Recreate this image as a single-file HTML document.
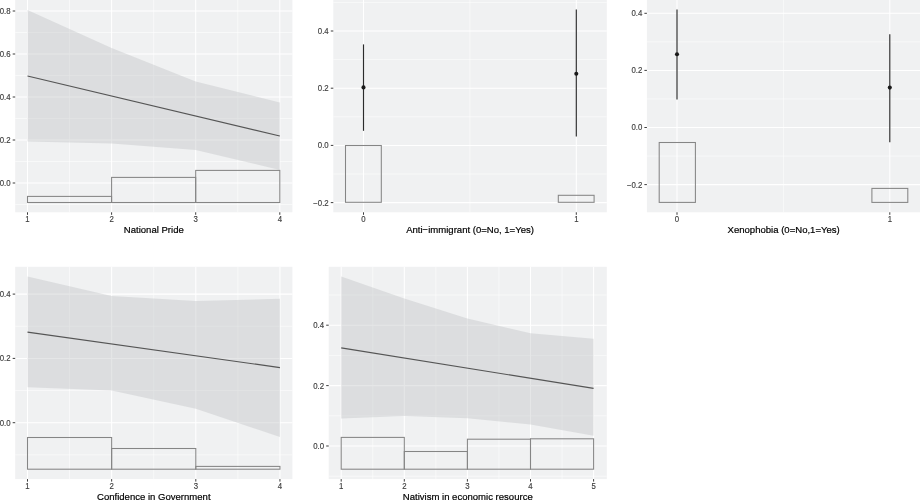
<!DOCTYPE html>
<html><head><meta charset="utf-8"><title>Marginal effects</title>
<style>
html,body{margin:0;padding:0;background:#fff;overflow:hidden}
svg{display:block}
text{font-family:"Liberation Sans",Arial,sans-serif}
.t{font-size:8.4px;fill:#3d3d3d;stroke:#3d3d3d;stroke-width:0.15px}
.a{font-size:9.9px;fill:#000;stroke:#000;stroke-width:0.2px}
</style></head><body>
<svg width="920" height="500" viewBox="0 0 920 500">
<rect width="920" height="500" fill="#fff"/>
<rect x="15.2" y="-2" width="277.20" height="214.30" fill="#F0F1F2"/>
<path d="M69.55 -2V212.3M153.65 -2V212.3M237.75 -2V212.3M15.2 204.50H292.4M15.2 161.50H292.4M15.2 118.50H292.4M15.2 75.50H292.4M15.2 32.50H292.4" stroke="#FFFFFF" stroke-width="0.55" fill="none"/>
<path d="M27.50 -2V212.3M111.60 -2V212.3M195.70 -2V212.3M279.80 -2V212.3M15.2 183.00H292.4M15.2 140.00H292.4M15.2 97.00H292.4M15.2 54.00H292.4M15.2 11.00H292.4" stroke="#FFFFFF" stroke-width="1.05" fill="none"/>
<polygon points="27.50,10.00 111.60,48.00 195.70,81.50 279.80,102.50 279.80,170.00 195.70,150.00 111.60,143.50 27.50,141.50" fill="#BFC1C4" fill-opacity="0.4"/>
<line x1="27.50" y1="76.00" x2="279.80" y2="136.00" stroke="#555" stroke-width="1.2"/>
<rect x="27.50" y="196.40" width="84.10" height="6.10" fill="none" stroke="#858585" stroke-width="1.05"/>
<rect x="111.60" y="177.40" width="84.10" height="25.10" fill="none" stroke="#858585" stroke-width="1.05"/>
<rect x="195.70" y="170.40" width="84.10" height="32.10" fill="none" stroke="#858585" stroke-width="1.05"/>
<path d="M27.50 212.3v2.5M111.60 212.3v2.5M195.70 212.3v2.5M279.80 212.3v2.5" stroke="#333" stroke-width="0.95" fill="none"/>
<text class="t" transform="translate(27.50 222.30) scale(0.93 1)" text-anchor="middle">1</text>
<text class="t" transform="translate(111.60 222.30) scale(0.93 1)" text-anchor="middle">2</text>
<text class="t" transform="translate(195.70 222.30) scale(0.93 1)" text-anchor="middle">3</text>
<text class="t" transform="translate(279.80 222.30) scale(0.93 1)" text-anchor="middle">4</text>
<path d="M15.2 183.00h-2.5M15.2 140.00h-2.5M15.2 97.00h-2.5M15.2 54.00h-2.5M15.2 11.00h-2.5" stroke="#333" stroke-width="0.95" fill="none"/>
<text class="t" transform="translate(10.60 185.95) scale(0.93 1)" text-anchor="end">0.0</text>
<text class="t" transform="translate(10.60 142.95) scale(0.93 1)" text-anchor="end">0.2</text>
<text class="t" transform="translate(10.60 99.95) scale(0.93 1)" text-anchor="end">0.4</text>
<text class="t" transform="translate(10.60 56.95) scale(0.93 1)" text-anchor="end">0.6</text>
<text class="t" transform="translate(10.60 13.95) scale(0.93 1)" text-anchor="end">0.8</text>
<text class="a" transform="translate(153.80 233.40) scale(0.965 1)" text-anchor="middle">National Pride</text>
<rect x="333.3" y="-2" width="273.50" height="214.30" fill="#F0F1F2"/>
<path d="M469.90 -2V212.3M333.3 174.00H606.8M333.3 116.80H606.8M333.3 59.60H606.8M333.3 2.40H606.8" stroke="#FFFFFF" stroke-width="0.55" fill="none"/>
<path d="M363.50 -2V212.3M576.30 -2V212.3M333.3 202.60H606.8M333.3 145.40H606.8M333.3 88.20H606.8M333.3 31.00H606.8" stroke="#FFFFFF" stroke-width="1.05" fill="none"/>
<rect x="345.50" y="145.50" width="35.80" height="56.80" fill="none" stroke="#858585" stroke-width="1.05"/>
<rect x="558.30" y="195.30" width="35.80" height="7.00" fill="none" stroke="#858585" stroke-width="1.05"/>
<line x1="363.50" y1="44.40" x2="363.50" y2="130.80" stroke="#2b2b2b" stroke-width="1.15"/>
<circle cx="363.50" cy="87.40" r="2.05" fill="#1a1a1a"/>
<line x1="576.30" y1="9.60" x2="576.30" y2="136.50" stroke="#2b2b2b" stroke-width="1.15"/>
<circle cx="576.30" cy="73.70" r="2.05" fill="#1a1a1a"/>
<path d="M363.50 212.3v2.5M576.30 212.3v2.5" stroke="#333" stroke-width="0.95" fill="none"/>
<text class="t" transform="translate(363.50 222.30) scale(0.93 1)" text-anchor="middle">0</text>
<text class="t" transform="translate(576.30 222.30) scale(0.93 1)" text-anchor="middle">1</text>
<path d="M333.3 202.60h-2.5M333.3 145.40h-2.5M333.3 88.20h-2.5M333.3 31.00h-2.5" stroke="#333" stroke-width="0.95" fill="none"/>
<text class="t" transform="translate(328.70 205.55) scale(0.93 1)" text-anchor="end">−0.2</text>
<text class="t" transform="translate(328.70 148.35) scale(0.93 1)" text-anchor="end">0.0</text>
<text class="t" transform="translate(328.70 91.15) scale(0.93 1)" text-anchor="end">0.2</text>
<text class="t" transform="translate(328.70 33.95) scale(0.93 1)" text-anchor="end">0.4</text>
<text class="a" transform="translate(470.05 233.40) scale(0.965 1)" text-anchor="middle">Anti−immigrant (0=No, 1=Yes)</text>
<rect x="646.9" y="-2" width="274.10" height="214.30" fill="#F0F1F2"/>
<path d="M783.40 -2V212.3M646.9 156.05H921M646.9 98.95H921M646.9 41.85H921" stroke="#FFFFFF" stroke-width="0.55" fill="none"/>
<path d="M677.00 -2V212.3M889.80 -2V212.3M646.9 184.60H921M646.9 127.50H921M646.9 70.40H921M646.9 13.30H921" stroke="#FFFFFF" stroke-width="1.05" fill="none"/>
<rect x="659.20" y="142.50" width="36.20" height="59.90" fill="none" stroke="#858585" stroke-width="1.05"/>
<rect x="871.90" y="188.40" width="35.90" height="14.00" fill="none" stroke="#858585" stroke-width="1.05"/>
<line x1="677.00" y1="9.60" x2="677.00" y2="99.60" stroke="#2b2b2b" stroke-width="1.15"/>
<circle cx="677.00" cy="54.20" r="2.05" fill="#1a1a1a"/>
<line x1="889.80" y1="34.30" x2="889.80" y2="142.20" stroke="#2b2b2b" stroke-width="1.15"/>
<circle cx="889.80" cy="87.60" r="2.05" fill="#1a1a1a"/>
<path d="M677.00 212.3v2.5M889.80 212.3v2.5" stroke="#333" stroke-width="0.95" fill="none"/>
<text class="t" transform="translate(677.00 222.30) scale(0.93 1)" text-anchor="middle">0</text>
<text class="t" transform="translate(889.80 222.30) scale(0.93 1)" text-anchor="middle">1</text>
<path d="M646.9 184.60h-2.5M646.9 127.50h-2.5M646.9 70.40h-2.5M646.9 13.30h-2.5" stroke="#333" stroke-width="0.95" fill="none"/>
<text class="t" transform="translate(642.30 187.55) scale(0.93 1)" text-anchor="end">−0.2</text>
<text class="t" transform="translate(642.30 130.45) scale(0.93 1)" text-anchor="end">0.0</text>
<text class="t" transform="translate(642.30 73.35) scale(0.93 1)" text-anchor="end">0.2</text>
<text class="t" transform="translate(642.30 16.25) scale(0.93 1)" text-anchor="end">0.4</text>
<text class="a" transform="translate(783.65 233.40) scale(0.965 1)" text-anchor="middle">Xenophobia (0=No,1=Yes)</text>
<rect x="15.2" y="266.8" width="277.20" height="212.30" fill="#F0F1F2"/>
<path d="M69.58 266.8V479.1M153.73 266.8V479.1M237.88 266.8V479.1M15.2 454.85H292.4M15.2 390.55H292.4M15.2 326.25H292.4" stroke="#FFFFFF" stroke-width="0.55" fill="none"/>
<path d="M27.50 266.8V479.1M111.65 266.8V479.1M195.80 266.8V479.1M279.95 266.8V479.1M15.2 422.70H292.4M15.2 358.40H292.4M15.2 294.10H292.4" stroke="#FFFFFF" stroke-width="1.05" fill="none"/>
<polygon points="27.50,276.40 111.65,296.10 195.80,301.10 279.95,298.70 279.95,437.10 195.80,408.80 111.65,390.50 27.50,387.20" fill="#BFC1C4" fill-opacity="0.4"/>
<line x1="27.50" y1="332.10" x2="279.95" y2="367.60" stroke="#555" stroke-width="1.2"/>
<rect x="27.50" y="437.50" width="84.15" height="31.70" fill="none" stroke="#858585" stroke-width="1.05"/>
<rect x="111.65" y="448.50" width="84.15" height="20.70" fill="none" stroke="#858585" stroke-width="1.05"/>
<rect x="195.80" y="466.40" width="84.15" height="2.80" fill="none" stroke="#858585" stroke-width="1.05"/>
<path d="M27.50 479.1v2.5M111.65 479.1v2.5M195.80 479.1v2.5M279.95 479.1v2.5" stroke="#333" stroke-width="0.95" fill="none"/>
<text class="t" transform="translate(27.50 488.70) scale(0.93 1)" text-anchor="middle">1</text>
<text class="t" transform="translate(111.65 488.70) scale(0.93 1)" text-anchor="middle">2</text>
<text class="t" transform="translate(195.80 488.70) scale(0.93 1)" text-anchor="middle">3</text>
<text class="t" transform="translate(279.95 488.70) scale(0.93 1)" text-anchor="middle">4</text>
<path d="M15.2 422.70h-2.5M15.2 358.40h-2.5M15.2 294.10h-2.5" stroke="#333" stroke-width="0.95" fill="none"/>
<text class="t" transform="translate(10.60 425.65) scale(0.93 1)" text-anchor="end">0.0</text>
<text class="t" transform="translate(10.60 361.35) scale(0.93 1)" text-anchor="end">0.2</text>
<text class="t" transform="translate(10.60 297.05) scale(0.93 1)" text-anchor="end">0.4</text>
<text class="a" transform="translate(153.80 499.80) scale(0.965 1)" text-anchor="middle">Confidence in Government</text>
<rect x="328.7" y="266.8" width="278.10" height="212.30" fill="#F0F1F2"/>
<path d="M372.75 266.8V479.1M435.85 266.8V479.1M498.95 266.8V479.1M562.05 266.8V479.1M328.7 476.20H606.8M328.7 415.80H606.8M328.7 355.40H606.8M328.7 295.00H606.8" stroke="#FFFFFF" stroke-width="0.55" fill="none"/>
<path d="M341.20 266.8V479.1M404.30 266.8V479.1M467.40 266.8V479.1M530.50 266.8V479.1M593.60 266.8V479.1M328.7 446.00H606.8M328.7 385.60H606.8M328.7 325.20H606.8" stroke="#FFFFFF" stroke-width="1.05" fill="none"/>
<polygon points="341.20,276.40 404.30,298.50 467.40,318.50 530.50,333.30 593.60,338.80 593.60,435.70 530.50,424.40 467.40,418.20 404.30,416.00 341.20,418.40" fill="#BFC1C4" fill-opacity="0.4"/>
<line x1="341.20" y1="347.90" x2="593.60" y2="388.40" stroke="#555" stroke-width="1.2"/>
<rect x="341.20" y="437.40" width="63.10" height="31.80" fill="none" stroke="#858585" stroke-width="1.05"/>
<rect x="404.30" y="451.50" width="63.10" height="17.70" fill="none" stroke="#858585" stroke-width="1.05"/>
<rect x="467.40" y="439.20" width="63.10" height="30.00" fill="none" stroke="#858585" stroke-width="1.05"/>
<rect x="530.50" y="438.80" width="63.10" height="30.40" fill="none" stroke="#858585" stroke-width="1.05"/>
<path d="M341.20 479.1v2.5M404.30 479.1v2.5M467.40 479.1v2.5M530.50 479.1v2.5M593.60 479.1v2.5" stroke="#333" stroke-width="0.95" fill="none"/>
<text class="t" transform="translate(341.20 488.70) scale(0.93 1)" text-anchor="middle">1</text>
<text class="t" transform="translate(404.30 488.70) scale(0.93 1)" text-anchor="middle">2</text>
<text class="t" transform="translate(467.40 488.70) scale(0.93 1)" text-anchor="middle">3</text>
<text class="t" transform="translate(530.50 488.70) scale(0.93 1)" text-anchor="middle">4</text>
<text class="t" transform="translate(593.60 488.70) scale(0.93 1)" text-anchor="middle">5</text>
<path d="M328.7 446.00h-2.5M328.7 385.60h-2.5M328.7 325.20h-2.5" stroke="#333" stroke-width="0.95" fill="none"/>
<text class="t" transform="translate(324.10 448.95) scale(0.93 1)" text-anchor="end">0.0</text>
<text class="t" transform="translate(324.10 388.55) scale(0.93 1)" text-anchor="end">0.2</text>
<text class="t" transform="translate(324.10 328.15) scale(0.93 1)" text-anchor="end">0.4</text>
<text class="a" transform="translate(467.75 499.80) scale(0.965 1)" text-anchor="middle">Nativism in economic resource</text>
</svg>
</body></html>
